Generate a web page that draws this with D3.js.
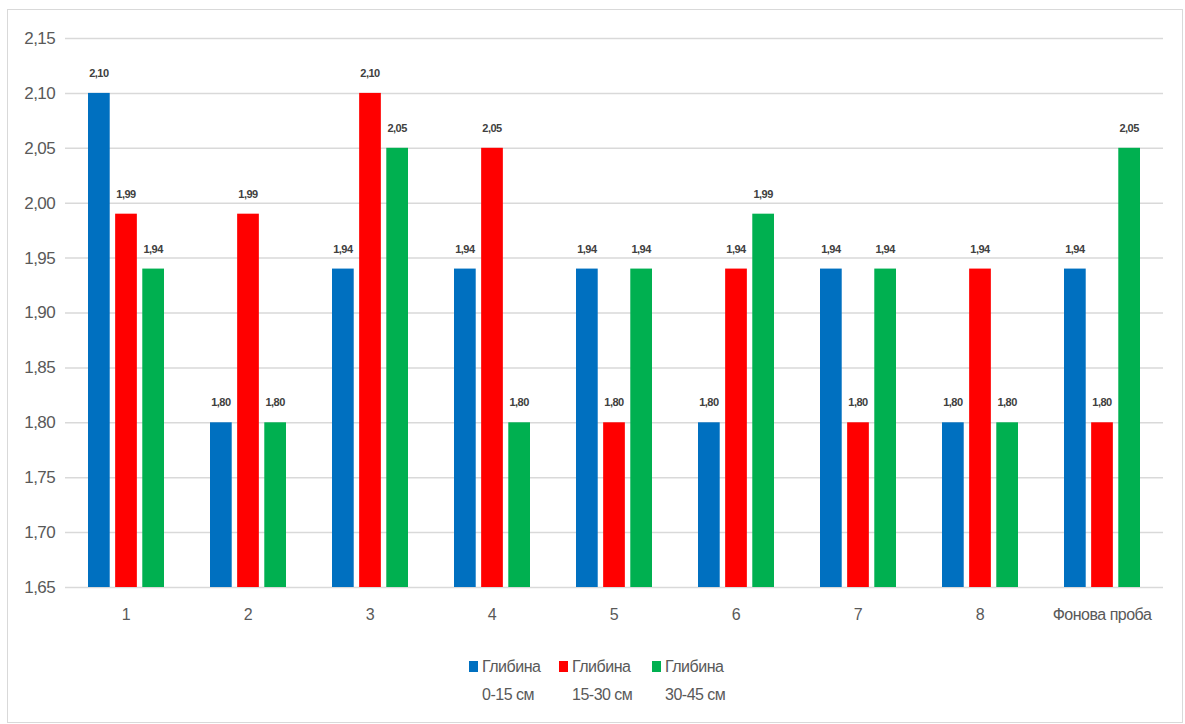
<!DOCTYPE html>
<html><head><meta charset="utf-8">
<script src="https://cdn.jsdelivr.net/npm/d3@7"></script>
<style>
body{margin:0;background:#fff;}
svg text{font-family:"Liberation Sans Narrow","Arial Narrow","Liberation Sans",sans-serif;}
</style></head>
<body><svg id="c" width="1185" height="724"></svg>
<script>
const categories = ["1","2","3","4","5","6","7","8","Фонова проба"];
const depth0_15  = [2.10,1.80,1.94,1.94,1.94,1.80,1.94,1.80,1.94];
const depth15_30 = [1.99,1.99,2.10,2.05,1.80,1.94,1.80,1.94,1.80];
const depth30_45 = [1.94,1.80,2.05,1.80,1.94,1.99,1.94,1.80,2.05];
const seriesNames = [["Глибина","0-15 см"],["Глибина","15-30 см"],["Глибина","30-45 см"]];
const yTicks = [1.65,1.70,1.75,1.80,1.85,1.90,1.95,2.00,2.05,2.10,2.15];
const colors = ["#0070c0","#ff0000","#00b050"];

const series = [depth0_15, depth15_30, depth30_45];
const svg = d3.select("#c");
svg.append("rect").attr("x",7.5).attr("y",9.5).attr("width",1175).attr("height",713)
  .attr("fill","#fff").attr("stroke","#d9d9d9");

const L=65, R=1163, T=38, B=587;
const x = d3.scaleBand().domain(categories).range([L,R]).paddingInner(0).paddingOuter(0);
const xs = d3.scaleBand().domain([0,1,2]).range([0,76]).paddingInner(0.2);
const y = d3.scaleLinear().domain([1.65,2.15]).range([B,T]);
const fmt = v => d3.format(".2f")(v).replace(".",",");

const g = svg.append("g");
const ya = g.append("g").attr("transform",`translate(${L},0)`)
  .call(d3.axisLeft(y).tickValues(yTicks).tickSize(-(R-L)).tickFormat(fmt));
ya.select(".domain").remove();
ya.selectAll(".tick line").attr("stroke","#d9d9d9").attr("stroke-width",1.5);
ya.selectAll(".tick text").attr("x",-10).attr("font-size",17).attr("fill","#595959")
  .attr("letter-spacing",-0.6)
  .style("font-family",'"Liberation Sans Narrow","Liberation Sans",sans-serif');

const xa = g.append("g").attr("transform",`translate(0,${B})`)
  .call(d3.axisBottom(x).tickSize(0).tickPadding(22));
xa.select(".domain").remove();
xa.selectAll(".tick text").attr("font-size",16).attr("fill","#595959").attr("letter-spacing",-0.5);

series.forEach((vals,si)=>{
  const grp = g.append("g");
  grp.selectAll("rect").data(vals).join("rect")
    .attr("x",(d,i)=>x(categories[i])+x.bandwidth()/2-38+xs(si))
    .attr("width",xs.bandwidth())
    .attr("y",d=>y(d)).attr("height",d=>B-y(d))
    .attr("fill",colors[si]);
  grp.selectAll("text").data(vals).join("text")
    .attr("x",(d,i)=>x(categories[i])+x.bandwidth()/2-38+xs(si)+xs.bandwidth()/2)
    .attr("y",d=>y(d)-16)
    .attr("text-anchor","middle").attr("font-size",11).attr("font-weight","bold")
    .attr("letter-spacing",-0.5)
    .attr("fill","#404040").text(fmt);
});

const legX=[469,559,652];
seriesNames.forEach((n,i)=>{
  const lg = svg.append("g").attr("transform",`translate(${legX[i]},0)`);
  lg.append("rect").attr("x",0).attr("y",661).attr("width",9).attr("height",11).attr("fill",colors[i]);
  lg.append("text").attr("x",13).attr("y",672).attr("font-size",16).attr("fill","#595959")
    .attr("letter-spacing",-0.5).text(n[0]);
  lg.append("text").attr("x",13).attr("y",700).attr("font-size",16).attr("fill","#595959")
    .attr("letter-spacing",-0.5).text(n[1]);
});
</script></body></html>
